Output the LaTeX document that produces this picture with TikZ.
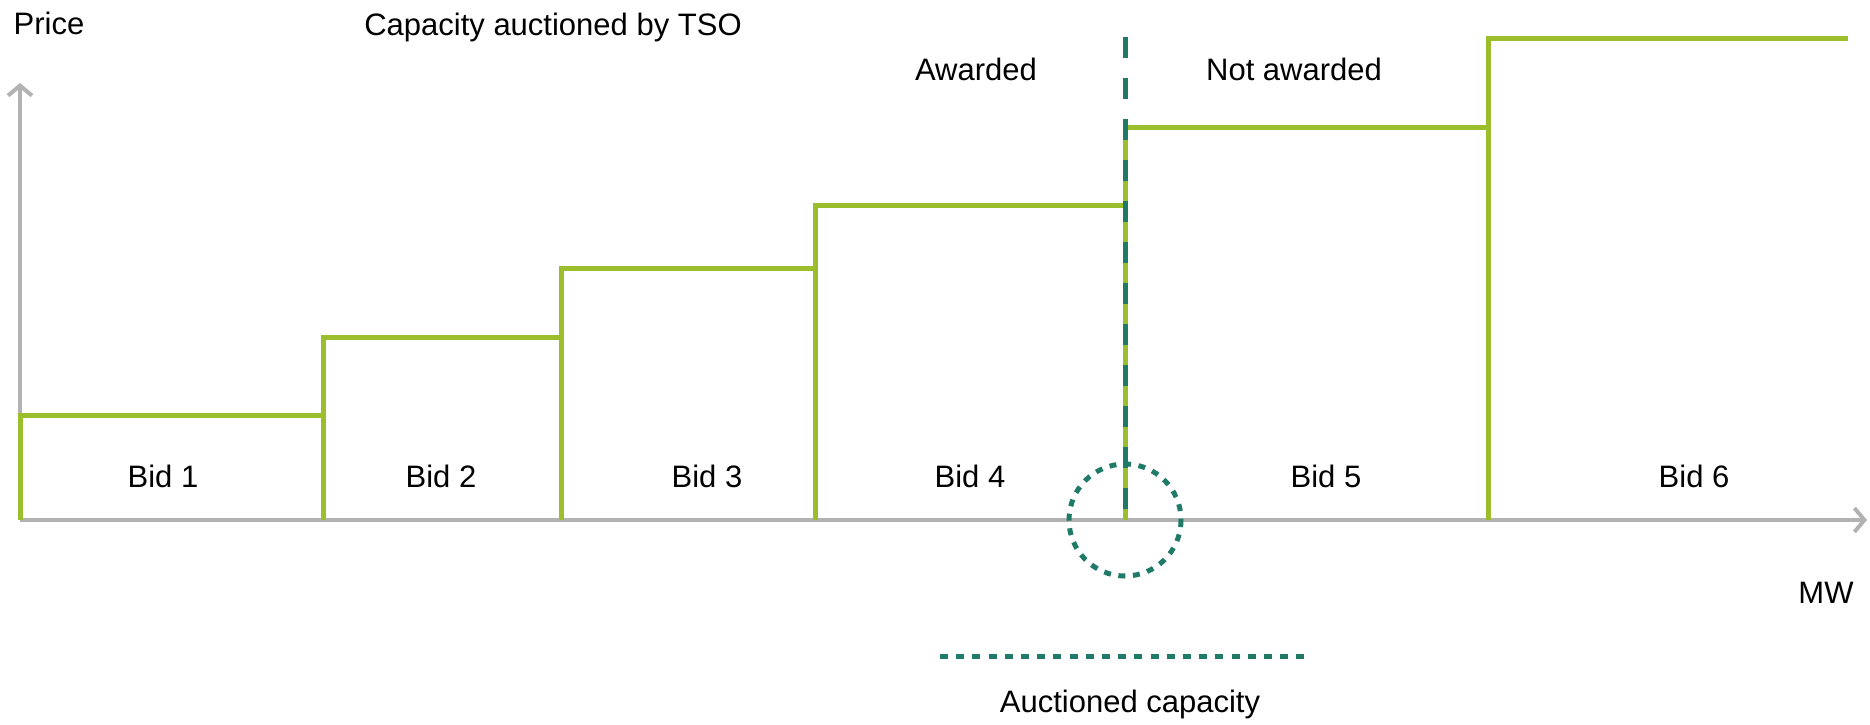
\documentclass[tikz,border=0pt]{standalone}
\usepackage{fontspec}
\setmainfont{Liberation Sans}
\usetikzlibrary{arrows.meta}

\definecolor{BidGreen}{RGB}{155,190,45}
\definecolor{CutTeal}{RGB}{31,122,104}
\definecolor{AxisGray}{RGB}{178,178,178}

\tikzset{
    axis/.style={draw=AxisGray, line width=4pt, -{Straight Barb[length=10pt,width=24pt]}},
    bidline/.style={draw=BidGreen, line width=5pt},
    cutline/.style={draw=CutTeal, line width=5pt, dash pattern=on 21pt off 20pt},
    cutdots/.style={draw=CutTeal, line width=5pt, dash pattern=on 7pt off 7.6pt},
    label/.style={font=\fontsize{31}{36}\selectfont, inner sep=0pt, anchor=base},
}

\begin{document}
\begin{tikzpicture}[x=1pt, y=-1pt]

    \useasboundingbox (0,0) rectangle (1870,724);

    \coordinate (O) at (20,520);
    \coordinate (Ytop) at (20,83);
    \coordinate (Xend) at (1867,520);

    % Ejes
    \draw [axis] (O) -- (Ytop);
    \draw [axis] (O) -- (Xend);

    % Escalones de las ofertas: x inicial / precio / x final
    \foreach \xa/\p/\xb in {20/415/323, 323/337/561, 561/268/815,
                            815/205/1125, 1125/127/1488, 1488/38/1848}
        \draw [bidline] (\xa,520) -- (\xa,\p) -- (\xb,\p);

    % Etiquetas de las ofertas
    \foreach \x/\n in {163/1, 441/2, 707/3, 970/4, 1326/5, 1694/6}
        \node [label] (bid\n) at (\x,487) {Bid \n};

    % Corte de la capacidad subastada
    \coordinate (Ctop) at (1125,37);
    \coordinate (Cbot) at (1125,520);
    \draw [cutline] (Ctop) -- (Cbot);
    \draw [cutdots] (Cbot) circle [radius=56];

    \coordinate (Dleft) at (940,656);
    \coordinate (Dright) at (1307,656);
    \draw [draw=CutTeal, line width=5pt, dash pattern=on 8pt off 8.2pt] (Dleft) -- (Dright);

    % Textos
    \node [label] (price) at (49,34) {Price};
    \node [label] (tso) at (553,35) {Capacity auctioned by TSO};
    \node [label] (awarded) at (976,80) {Awarded};
    \node [label] (notawarded) at (1294,80) {Not awarded};
    \node [label] (mw) at (1826,603) {MW};
    \node [label] (auctioned) at (1130,712) {Auctioned capacity};

\end{tikzpicture}
\end{document}
